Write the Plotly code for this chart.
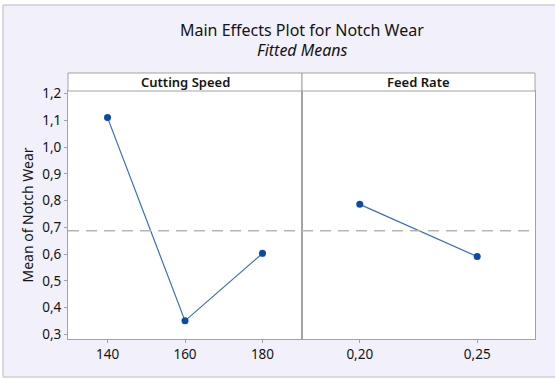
import numpy as np
import plotly.graph_objects as go

# ---- data ----
speed_levels = [140, 160, 180]
speed_means = [1.110, 0.351, 0.603]
feed_levels = [0.20, 0.25]
feed_means = [0.786, 0.591]
y_ticks = [0.3, 0.4, 0.5, 0.6, 0.7, 0.8, 0.9, 1.0, 1.1, 1.2]
panel_titles = ["Cutting Speed", "Feed Rate"]
overall_mean = 0.6875

W, H = 555, 379
L, R, T, B = 68, 20, 73, 40
PW, PH = W - L - R, H - T - B


def px(x):
    return (x - L) / PW


def py(y):
    return (H - B - y) / PH


split = px(302)
ytop = py(91)

font = "Noto Sans"
txt = "#141414"
grey = "#a3a3a3"
line_c = "#3a6cc6"
mark_c = "#0b4ba6"

fig = go.Figure()
fig.add_trace(go.Scatter(x=speed_levels, y=speed_means, mode="lines+markers",
                         line=dict(color=line_c, width=1.2),
                         marker=dict(color=mark_c, size=7),
                         xaxis="x", yaxis="y", showlegend=False))
fig.add_trace(go.Scatter(x=feed_levels, y=feed_means, mode="lines+markers",
                         line=dict(color=line_c, width=1.2),
                         marker=dict(color=mark_c, size=7),
                         xaxis="x2", yaxis="y2", showlegend=False))

axis_common = dict(showline=True, mirror=True, linecolor=grey, linewidth=1,
                   showgrid=False, zeroline=False, ticks="outside", ticklen=3,
                   tickcolor=grey, tickfont=dict(family=font, size=13.5, color=txt))

fig.update_layout(
    width=W, height=H,
    margin=dict(l=L, r=R, t=T, b=B),
    paper_bgcolor="#f2f0fa",
    plot_bgcolor="white",
    separators=",.",
    xaxis=dict(domain=[0, split], range=[129.8, 190.2], tickvals=speed_levels,
               anchor="y", **axis_common),
    xaxis2=dict(domain=[split, 1], range=[0.1754, 0.2746], tickvals=feed_levels,
                tickformat=".2f", anchor="y2", **axis_common),
    yaxis=dict(domain=[0, ytop], range=[0.2832, 1.2093], tickvals=y_ticks,
               tickformat=".1f", anchor="x",
               title=dict(text="Mean of Notch Wear", standoff=5,
                          font=dict(family=font, size=14, color=txt)),
               **axis_common),
    yaxis2=dict(domain=[0, ytop], range=[0.2832, 1.2093], matches="y",
                showticklabels=False, anchor="x2",
                **{**axis_common, "ticks": ""}),
)

shapes = []
# white outside frame
shapes.append(dict(type="rect", xref="paper", yref="paper", x0=px(-5), x1=px(W + 5),
                   y0=py(5), y1=py(-5), fillcolor="white", line=dict(width=0), layer="below"))
shapes.append(dict(type="rect", xref="paper", yref="paper", x0=px(-5), x1=px(3),
                   y0=py(H + 5), y1=py(-5), fillcolor="white", line=dict(width=0), layer="below"))
shapes.append(dict(type="rect", xref="paper", yref="paper", x0=px(-5), x1=px(W + 5),
                   y0=py(H + 5), y1=py(377), fillcolor="white", line=dict(width=0), layer="below"))
# frame lines
for x0, y0, x1, y1 in [(3, 5, W + 5, 5), (3, 5, 3, 377), (3, 377, W + 5, 377)]:
    shapes.append(dict(type="line", xref="paper", yref="paper", x0=px(x0), x1=px(x1),
                       y0=py(y0), y1=py(y1), line=dict(color="#cfcfd4", width=1.5)))
# strips
for a, b in [(0, split), (split, 1)]:
    shapes.append(dict(type="rect", xref="paper", yref="paper", x0=a, x1=b,
                       y0=ytop, y1=1, fillcolor="white", line=dict(color=grey, width=1)))
# reference mean line
for xr, yr in [("x domain", "y"), ("x2 domain", "y2")]:
    shapes.append(dict(type="line", xref=xr, yref=yr, x0=0, x1=1,
                       y0=overall_mean, y1=overall_mean,
                       line=dict(color="#b5b5b5", width=1.3, dash="11px,7px")))
fig.update_layout(shapes=shapes)

ann = [
    dict(text="Main Effects Plot for Notch Wear", x=px(302), y=py(30),
         font=dict(family=font, size=16, color=txt)),
    dict(text="<i>Fitted Means</i>", x=px(302), y=py(50),
         font=dict(family=font, size=16, color=txt)),
    dict(text=panel_titles[0], x=split / 2, y=py(82),
         font=dict(family=font, size=13, color=txt, weight=600)),
    dict(text=panel_titles[1], x=(split + 1) / 2, y=py(82),
         font=dict(family=font, size=13, color=txt, weight=600)),
]
for a in ann:
    a.update(xref="paper", yref="paper", showarrow=False, xanchor="center", yanchor="middle")
fig.update_layout(annotations=ann)

fig.write_html("out.html", config={"displayModeBar": False},
               post_script="document.body.style.margin='0';document.body.style.padding='0';")
